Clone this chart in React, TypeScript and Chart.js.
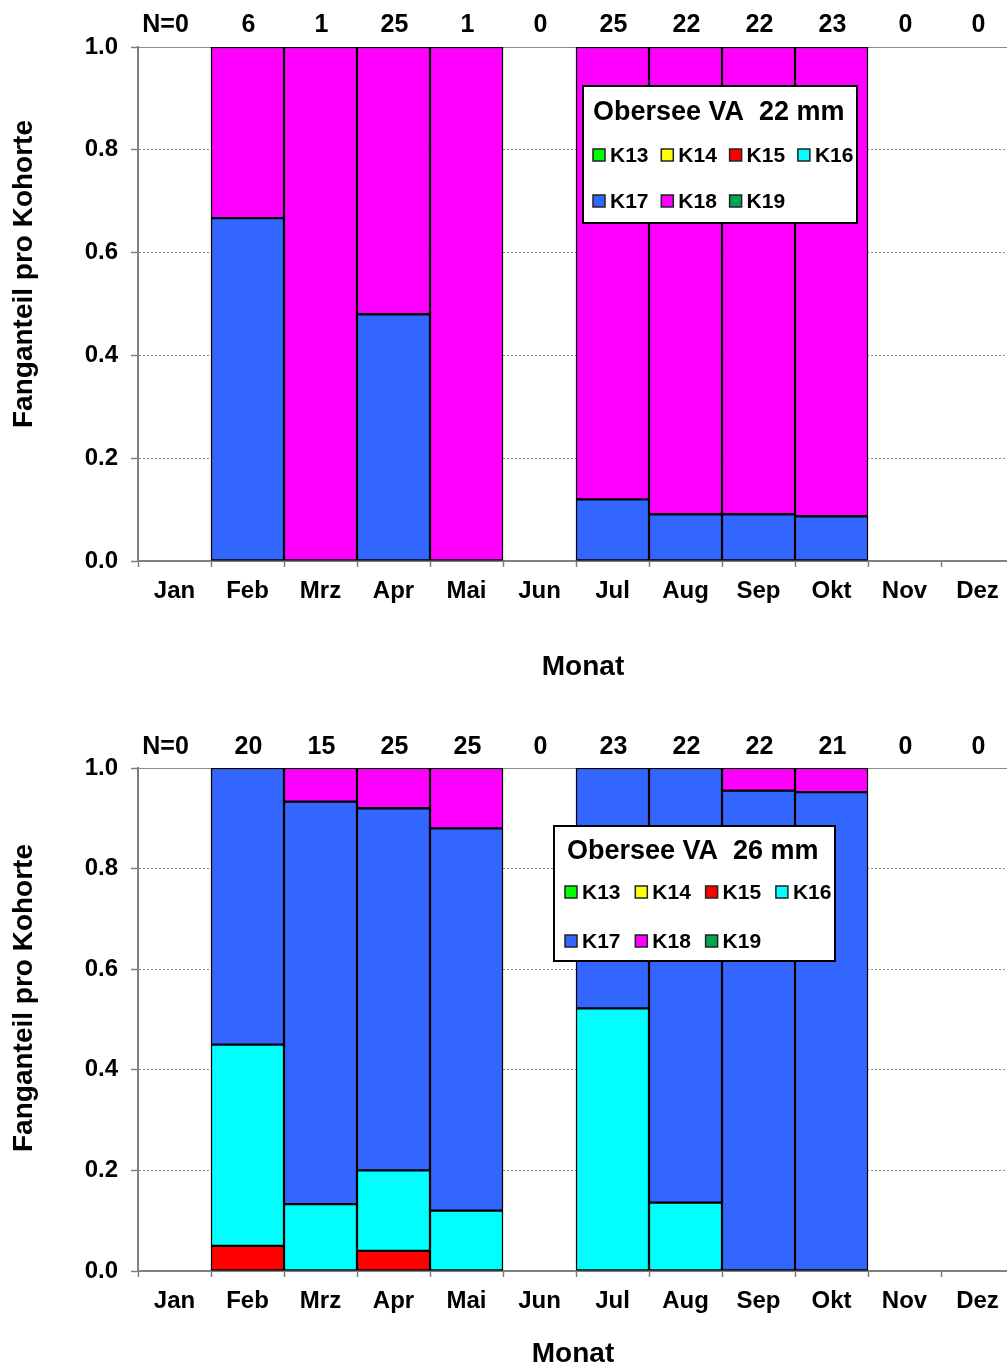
import React, { useEffect, useRef } from 'react';
import { Chart, registerables } from 'chart.js';

Chart.register(...registerables);

// ---------- data ----------
const MONTHS = ['Jan', 'Feb', 'Mrz', 'Apr', 'Mai', 'Jun', 'Jul', 'Aug', 'Sep', 'Okt', 'Nov', 'Dez'];
const COHORTS = ['K13', 'K14', 'K15', 'K16', 'K17', 'K18', 'K19'];
const COHORT_COLORS = ['#00FF00', '#FFFF00', '#FF0000', '#00FFFF', '#3366FF', '#FF00FF', '#00A650'];
const Y_TICKS = [0, 0.2, 0.4, 0.6, 0.8, 1.0];

// Obersee VA 22 mm
const N_22 = [0, 6, 1, 25, 1, 0, 25, 22, 22, 23, 0, 0];
const K13_22 = [0, 0, 0, 0, 0, 0, 0, 0, 0, 0, 0, 0];
const K14_22 = [0, 0, 0, 0, 0, 0, 0, 0, 0, 0, 0, 0];
const K15_22 = [0, 0, 0, 0, 0, 0, 0, 0, 0, 0, 0, 0];
const K16_22 = [0, 0, 0, 0, 0, 0, 0, 0, 0, 0, 0, 0];
const K17_22 = [0, 0.667, 0, 0.48, 0, 0, 0.12, 0.091, 0.091, 0.087, 0, 0];
const K18_22 = [0, 0.333, 1, 0.52, 1, 0, 0.88, 0.909, 0.909, 0.913, 0, 0];
const K19_22 = [0, 0, 0, 0, 0, 0, 0, 0, 0, 0, 0, 0];

// Obersee VA 26 mm
const N_26 = [0, 20, 15, 25, 25, 0, 23, 22, 22, 21, 0, 0];
const K13_26 = [0, 0, 0, 0, 0, 0, 0, 0, 0, 0, 0, 0];
const K14_26 = [0, 0, 0, 0, 0, 0, 0, 0, 0, 0, 0, 0];
const K15_26 = [0, 0.05, 0, 0.04, 0, 0, 0, 0, 0, 0, 0, 0];
const K16_26 = [0, 0.4, 0.133, 0.16, 0.12, 0, 0.522, 0.136, 0, 0, 0, 0];
const K17_26 = [0, 0.55, 0.8, 0.72, 0.76, 0, 0.478, 0.864, 0.955, 0.952, 0, 0];
const K18_26 = [0, 0, 0.067, 0.08, 0.12, 0, 0, 0, 0.045, 0.048, 0, 0];
const K19_26 = [0, 0, 0, 0, 0, 0, 0, 0, 0, 0, 0, 0];

const FONT = '"Liberation Sans", Arial, sans-serif';

type LegendGeo = {
  dx: number; dy: number; w: number; h: number;
  titleX: number; titleY: number; row1: number; row2: number;
  markerX0: number; step: number;
};

type PanelProps = {
  title: string;
  nValues: number[];
  series: number[][];
  top: number;
  height: number;
  plotTop: number;
  plotBottom: number;
  nBaseline: number;
  yTitleY: number;
  xTitle: { x: number; y: number };
  legend: LegendGeo;
};

const CANVAS_W = 1030;
const PLOT_LEFT = 138;
const PLOT_RIGHT = 138 + 12 * 73;

function Panel(p: PanelProps) {
  const ref = useRef<HTMLCanvasElement | null>(null);
  useEffect(() => {
    if (!ref.current) return;
    const overlay = {
      id: 'overlay',
      afterDraw(chart: any) {
        const ctx = chart.ctx;
        const area = chart.chartArea;
        const xs = chart.scales.x;
        ctx.save();
        ctx.fillStyle = '#000';
        // N labels
        ctx.font = `bold 25px ${FONT}`;
        ctx.textAlign = 'center';
        ctx.textBaseline = 'alphabetic';
        p.nValues.forEach((n, i) => {
          const cx = xs.getPixelForValue(i);
          if (i === 0) ctx.fillText('N=' + n, cx - 9, p.nBaseline);
          else ctx.fillText(String(n), cx + 1, p.nBaseline);
        });
        // y title
        ctx.font = `bold 28px ${FONT}`;
        ctx.save();
        ctx.translate(24, p.yTitleY);
        ctx.rotate(-Math.PI / 2);
        ctx.textAlign = 'center';
        ctx.textBaseline = 'middle';
        ctx.fillText('Fanganteil pro Kohorte', 0, 0);
        ctx.restore();
        // x title
        ctx.textAlign = 'center';
        ctx.textBaseline = 'middle';
        ctx.fillText('Monat', p.xTitle.x, p.xTitle.y);
        // legend
        const L = p.legend;
        const bx = area.left + L.dx;
        const by = area.top + L.dy;
        ctx.fillStyle = '#fff';
        ctx.fillRect(bx, by, L.w, L.h);
        ctx.lineWidth = 2;
        ctx.strokeStyle = '#000';
        ctx.strokeRect(bx, by, L.w, L.h);
        ctx.fillStyle = '#000';
        ctx.textAlign = 'left';
        ctx.textBaseline = 'alphabetic';
        ctx.font = `bold 27px ${FONT}`;
        ctx.fillText(p.title, bx + L.titleX, by + L.titleY);
        ctx.font = `bold 21px ${FONT}`;
        ctx.textBaseline = 'middle';
        COHORTS.forEach((name, i) => {
          const row = i < 4 ? 0 : 1;
          const col = i < 4 ? i : i - 4;
          const mx = bx + L.markerX0 + col * L.step;
          const my = by + (row === 0 ? L.row1 : L.row2);
          ctx.fillStyle = COHORT_COLORS[i];
          ctx.fillRect(mx, my - 6, 12, 12);
          ctx.lineWidth = 1.5;
          ctx.strokeStyle = '#222';
          ctx.strokeRect(mx, my - 6, 12, 12);
          ctx.fillStyle = '#000';
          ctx.fillText(name, mx + 17, my + 1);
        });
        ctx.restore();
      },
    };

    const chart = new Chart(ref.current, {
      type: 'bar',
      data: {
        labels: MONTHS,
        datasets: COHORTS.map((name, i) => ({
          label: name,
          data: p.series[i].map((v) => (v > 0 ? v : null)),
          backgroundColor: COHORT_COLORS[i],
          borderColor: '#000',
          borderWidth: 1.5,
          borderSkipped: false,
          barPercentage: 1,
          categoryPercentage: 1,
        })),
      },
      options: {
        responsive: false,
        devicePixelRatio: 1,
        animation: false,
        layout: { padding: { top: p.plotTop, left: 0, right: CANVAS_W - PLOT_RIGHT, bottom: 0 } },
        plugins: { legend: { display: false }, tooltip: { enabled: false }, title: { display: false } },
        scales: {
          x: {
            stacked: true,
            offset: true,
            afterFit: (s: any) => { s.height = p.height - p.plotBottom; },
            grid: {
              offset: true,
              drawOnChartArea: false,
              drawTicks: true,
              tickLength: 6,
              color: '#808080',
              tickColor: '#808080',
              tickWidth: 1.5,
            },
            border: { display: true, color: '#808080', width: 2 },
            ticks: {
              color: '#000',
              font: { family: FONT, size: 24, weight: 'bold' },
              padding: 10,
              maxRotation: 0,
              autoSkip: false,
            },
          },
          y: {
            stacked: true,
            min: 0,
            max: 1,
            afterFit: (s: any) => { s.width = PLOT_LEFT; },
            afterBuildTicks: (s: any) => { s.ticks = Y_TICKS.map((v) => ({ value: v })); },
            grid: {
              color: (c: any) => (c.tick && c.tick.value === 0 ? 'rgba(0,0,0,0)' : '#8c8c8c'),
              lineWidth: 1,
              tickLength: 7,
              tickColor: '#808080',
              tickWidth: 1.5,
              tickBorderDash: [],
            },
            border: {
              display: true,
              color: '#808080',
              width: 2,
              dash: (c: any) => (c.tick && c.tick.value > 0 && c.tick.value < 1 ? [2, 2] : []),
            },
            ticks: {
              color: '#000',
              font: { family: FONT, size: 24, weight: 'bold' },
              padding: 13,
              callback: (v: any) => Number(v).toFixed(1),
            },
          },
        },
      },
      plugins: [overlay],
    } as any);
    return () => chart.destroy();
  }, []);
  return (
    <canvas
      ref={ref}
      width={CANVAS_W}
      height={p.height}
      style={{ position: 'absolute', left: 0, top: p.top, width: CANVAS_W, height: p.height, display: 'block' }}
    />
  );
}

export default function App() {
  return (
    <div style={{ position: 'fixed', left: 0, top: 0, width: 1007, height: 1367, overflow: 'hidden', background: '#fff' }}>
      <Panel
        title="Obersee VA  22 mm"
        nValues={N_22}
        series={[K13_22, K14_22, K15_22, K16_22, K17_22, K18_22, K19_22]}
        top={0}
        height={700}
        plotTop={47}
        plotBottom={561}
        nBaseline={32}
        yTitleY={274}
        xTitle={{ x: 583, y: 667 }}
        legend={{ dx: 445, dy: 39, w: 274, h: 137, titleX: 10, titleY: 34, row1: 69, row2: 115, markerX0: 10, step: 68.3 }}
      />
      <Panel
        title="Obersee VA  26 mm"
        nValues={N_26}
        series={[K13_26, K14_26, K15_26, K16_26, K17_26, K18_26, K19_26]}
        top={700}
        height={667}
        plotTop={68}
        plotBottom={571}
        nBaseline={54}
        yTitleY={298}
        xTitle={{ x: 573, y: 654 }}
        legend={{ dx: 416, dy: 58, w: 281, h: 135, titleX: 13, titleY: 33, row1: 66, row2: 115, markerX0: 11, step: 70.3 }}
      />
    </div>
  );
}
